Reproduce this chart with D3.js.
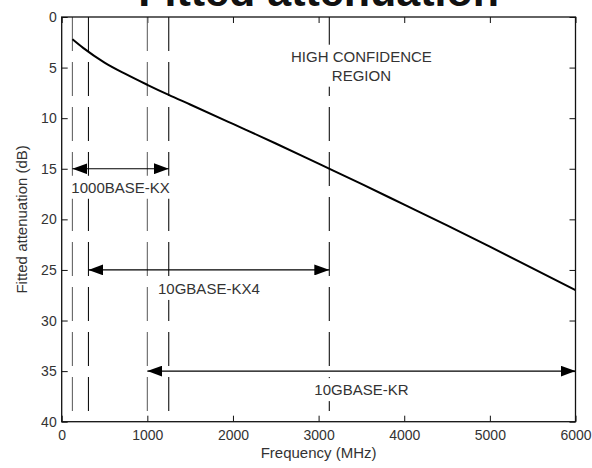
<!DOCTYPE html>
<html>
<head>
<meta charset="utf-8">
<script src="https://cdn.jsdelivr.net/npm/d3@7"></script>
<style>
  body{margin:0;background:#fff}
  text{font-family:"Liberation Sans",Arial,sans-serif}
</style>
</head>
<body>
<div id="chart"></div>
<script>
// curve (MHz, dB)
let freqs=[125,250,500,750,1000,1250,1500,2000,2500,3000,3500,4000,4500,5000,5500,6000]
let atten=[2.2,3.05,4.5,5.65,6.7,7.7,8.65,10.57,12.5,14.5,16.5,18.55,20.6,22.7,24.85,27.0]

// vertical dashed boundaries
let bounds=[125,312.5,1000,1250,3125]
let boundGray=[true,false,true,false,false]

// spans with arrows
let spanNames=["1000BASE-KX","10GBASE-KX4","10GBASE-KR"]
let spanStart=[125,312.5,1000]
let spanEnd=[1250,3125,6000]
let spanLevel=[15,25,35]

let xTicks=[0,1000,2000,3000,4000,5000,6000]
let yTicks=[0,5,10,15,20,25,30,35,40]

let width=592, height=468
let pLeft=61.7, pRight=575.5, pTop=17, pBottom=421.7

const x=d3.scaleLinear().domain([0,6000]).range([pLeft,pRight])
const y=d3.scaleLinear().domain([0,40]).range([pTop,pBottom])

const svg=d3.select("#chart").append("svg").attr("width",width).attr("height",height)

// title, cut off at the top
svg.append("text").attr("x",(pLeft+pRight)/2).attr("y",6).attr("text-anchor","middle")
  .attr("font-size",43).attr("font-weight","bold").attr("fill","#111").text("Fitted attenuation")

// axes, ticks pointing in
svg.append("g").attr("transform","translate(0,"+pBottom+")")
  .call(d3.axisBottom(x).tickValues(xTicks).tickFormat(d3.format("d")).tickSize(-6).tickSizeOuter(0).tickPadding(8))
svg.append("g").attr("transform","translate(0,"+pTop+")")
  .call(d3.axisTop(x).tickValues(xTicks).tickSize(-6).tickSizeOuter(0).tickFormat(""))
svg.append("g").attr("transform","translate("+pLeft+",0)")
  .call(d3.axisLeft(y).tickValues(yTicks).tickSize(-6).tickSizeOuter(0).tickPadding(5))
svg.append("g").attr("transform","translate("+pRight+",0)")
  .call(d3.axisRight(y).tickValues(yTicks).tickSize(-6).tickSizeOuter(0).tickFormat(""))
svg.selectAll(".domain").remove()
svg.selectAll(".tick line").attr("stroke","#111")
svg.selectAll(".tick text").attr("font-size",14).attr("fill","#333").attr("font-family","Liberation Sans, Arial, sans-serif")

// dashed verticals
svg.selectAll(".bound").data(bounds).enter().append("line").attr("class","bound")
  .attr("x1",d=>x(d)).attr("x2",d=>x(d)).attr("y1",pTop).attr("y2",pBottom)
  .attr("stroke",(d,i)=>boundGray[i]?"#666":"#111").attr("stroke-width",1.1)
  .attr("stroke-dasharray","34,11")

// curve
const line=d3.line().x((d,i)=>x(freqs[i])).y(d=>y(d)).curve(d3.curveMonotoneX)
svg.append("path").datum(atten).attr("d",line).attr("fill","none")
  .attr("stroke","#000").attr("stroke-width",2)

// arrows
svg.append("defs").append("marker").attr("id","head").attr("viewBox","0 0 15 11")
  .attr("refX",15).attr("refY",5.5).attr("markerWidth",15).attr("markerHeight",11)
  .attr("markerUnits","userSpaceOnUse").attr("orient","auto-start-reverse")
  .append("path").attr("d","M0,0L15,5.5L0,11Z").attr("fill","#000")
svg.selectAll(".span").data(spanNames).enter().append("line").attr("class","span")
  .attr("x1",(d,i)=>x(spanStart[i])).attr("x2",(d,i)=>x(spanEnd[i]))
  .attr("y1",(d,i)=>y(spanLevel[i])).attr("y2",(d,i)=>y(spanLevel[i]))
  .attr("stroke","#000").attr("stroke-width",1.2)
  .attr("marker-start","url(#head)").attr("marker-end","url(#head)")

// labels with white backing
function label(lines,cx,by,gap){
  let g=svg.append("g")
  let bg=g.append("rect").attr("fill","#fff")
  let t=g.append("text").attr("font-size",15).attr("fill","#333").attr("text-anchor","middle")
  lines.forEach((s,k)=>t.append("tspan").attr("x",cx).attr("y",by+k*gap).text(s))
  let b=t.node().getBBox()
  bg.attr("x",b.x-3).attr("y",b.y-3).attr("width",b.width+6).attr("height",b.height+6)
}
spanNames.forEach((n,i)=>label([n],x((spanStart[i]+spanEnd[i])/2),y(spanLevel[i])+24,0))
label(["HIGH CONFIDENCE","REGION"],x(3500),61.7,19)

// frame
svg.append("rect").attr("x",pLeft).attr("y",pTop).attr("width",pRight-pLeft).attr("height",pBottom-pTop)
  .attr("fill","none").attr("stroke","#111").attr("stroke-width",1.3)

// axis titles
svg.append("text").attr("x",(pLeft+pRight)/2).attr("y",458).attr("text-anchor","middle")
  .attr("font-size",15).attr("fill","#333").text("Frequency (MHz)")
svg.append("text").attr("transform","translate(27,"+((pTop+pBottom)/2)+") rotate(-90)")
  .attr("text-anchor","middle").attr("font-size",15).attr("fill","#333").text("Fitted attenuation (dB)")
</script>
</body>
</html>
